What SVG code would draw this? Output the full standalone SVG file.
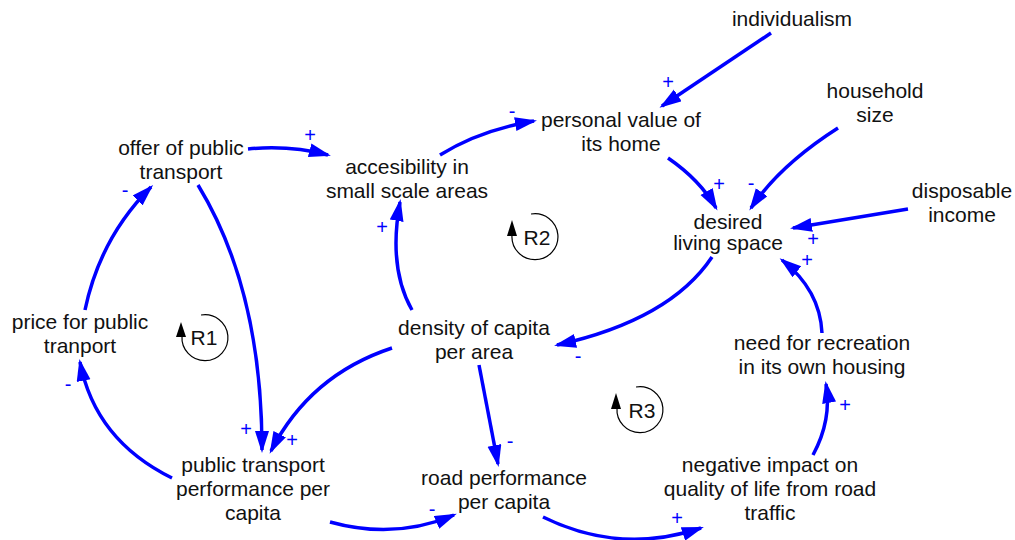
<svg xmlns="http://www.w3.org/2000/svg" width="1015" height="540" viewBox="0 0 1015 540">
  <style>
    .lbl { font-family: "Liberation Sans", Arial, sans-serif; font-size: 21px; fill: #111; text-anchor: middle; }
    .pol { font-family: "Liberation Sans", Arial, sans-serif; font-size: 20px; fill: #0000ff; text-anchor: middle; }
    .link { fill: none; stroke: #0000ff; stroke-width: 3.5; marker-end: url(#arrow); }
    .loop { fill: none; stroke: #000; stroke-width: 1.2; }
    .loophead { fill: #000; }
  </style>
  <defs>
    <marker id="arrow" markerUnits="userSpaceOnUse" markerWidth="24" markerHeight="16" refX="19" refY="7" orient="auto">
      <path d="M0,0 L22,7 L0,14 z" fill="#0000ff"/>
    </marker>
  </defs>
  <rect width="1015" height="540" fill="#fff"/>

  <!-- causal links -->
  <g id="connectors">
    <path class="link" d="M248,149 Q290,145 328,155"/>
    <path class="link" d="M85,310 Q100,238 151,187"/>
    <path class="link" d="M198,185 Q262,290 262,450"/>
    <path class="link" d="M392,348 Q310,375 271,451"/>
    <path class="link" d="M172,478 Q95,440 80,362"/>
    <path class="link" d="M330,522 Q395,540 454,515"/>
    <path class="link" d="M479,365 L498,464"/>
    <path class="link" d="M543,517 Q620,555 701,528"/>
    <path class="link" d="M813,455 Q832,420 826,384"/>
    <path class="link" d="M822,333 Q820,290 782,260"/>
    <path class="link" d="M908,209 L793,228"/>
    <path class="link" d="M838,128 Q780,165 751,208"/>
    <path class="link" d="M668,158 Q700,180 716,208"/>
    <path class="link" d="M771,33 L662,106"/>
    <path class="link" d="M440,155 Q480,130 534,121"/>
    <path class="link" d="M412,310 Q388,268 400,202"/>
    <path class="link" d="M712,257 Q670,320 557,345"/>
  </g>

  <!-- link polarities -->
  <g id="polarities">
    <text class="pol" x="310" y="142">+</text>
    <text class="pol" x="125" y="197">-</text>
    <text class="pol" x="246" y="436">+</text>
    <text class="pol" x="292" y="447">+</text>
    <text class="pol" x="68" y="391">-</text>
    <text class="pol" x="432" y="516">-</text>
    <text class="pol" x="510" y="448">-</text>
    <text class="pol" x="677" y="525">+</text>
    <text class="pol" x="845" y="412">+</text>
    <text class="pol" x="807" y="267">+</text>
    <text class="pol" x="813" y="246">+</text>
    <text class="pol" x="751" y="190">-</text>
    <text class="pol" x="719" y="191">+</text>
    <text class="pol" x="668" y="89">+</text>
    <text class="pol" x="512" y="118">-</text>
    <text class="pol" x="382" y="234">+</text>
    <text class="pol" x="578" y="363">-</text>
  </g>

  <!-- variables -->
  <g id="individualism"><text class="lbl" x="792" y="26">individualism</text></g>
  <g id="offer-public-transport"><text class="lbl" x="181" y="155"><tspan x="181">offer of public</tspan><tspan x="181" dy="24">transport</tspan></text></g>
  <g id="accessibility"><text class="lbl" x="407" y="174"><tspan x="407">accesibility in</tspan><tspan x="407" dy="24">small scale areas</tspan></text></g>
  <g id="personal-value"><text class="lbl" x="621" y="127"><tspan x="621">personal value of</tspan><tspan x="621" dy="24">its home</tspan></text></g>
  <g id="household-size"><text class="lbl" x="875" y="98"><tspan x="875">household</tspan><tspan x="875" dy="24">size</tspan></text></g>
  <g id="disposable-income"><text class="lbl" x="962" y="198"><tspan x="962">disposable</tspan><tspan x="962" dy="24">income</tspan></text></g>
  <g id="desired-living-space"><text class="lbl" x="728" y="229"><tspan x="728">desired</tspan><tspan x="728" dy="21">living space</tspan></text></g>
  <g id="price-public-transport"><text class="lbl" x="80" y="329"><tspan x="80">price for public</tspan><tspan x="80" dy="24">tranport</tspan></text></g>
  <g id="density"><text class="lbl" x="474" y="335"><tspan x="474">density of capita</tspan><tspan x="474" dy="24">per area</tspan></text></g>
  <g id="pt-performance"><text class="lbl" x="253" y="472"><tspan x="253">public transport</tspan><tspan x="253" dy="24">performance per</tspan><tspan x="253" dy="24">capita</tspan></text></g>
  <g id="road-performance"><text class="lbl" x="504" y="485"><tspan x="504">road performance</tspan><tspan x="504" dy="24">per capita</tspan></text></g>
  <g id="negative-impact"><text class="lbl" x="770" y="472"><tspan x="770">negative impact on</tspan><tspan x="770" dy="24">quality of life from road</tspan><tspan x="770" dy="24">traffic</tspan></text></g>
  <g id="need-recreation"><text class="lbl" x="822" y="350"><tspan x="822">need for recreation</tspan><tspan x="822" dy="24">in its own housing</tspan></text></g>

  <!-- reinforcing loop markers -->
  <g id="loop-R1">
    <path class="loop" d="M201,315 A23,23 0 1 1 182,336"/>
    <path class="loophead" d="M181,322 L186,337 L176,337 z"/>
    <text class="lbl" x="204" y="345">R1</text>
  </g>
  <g id="loop-R2">
    <path class="loop" d="M531,214 A23,23 0 1 1 512,235"/>
    <path class="loophead" d="M512,220 L517,236 L507,236 z"/>
    <text class="lbl" x="537" y="245">R2</text>
  </g>
  <g id="loop-R3">
    <path class="loop" d="M636,387 A23,23 0 1 1 617,408"/>
    <path class="loophead" d="M616,393 L621,409 L611,409 z"/>
    <text class="lbl" x="642" y="418">R3</text>
  </g>
</svg>
